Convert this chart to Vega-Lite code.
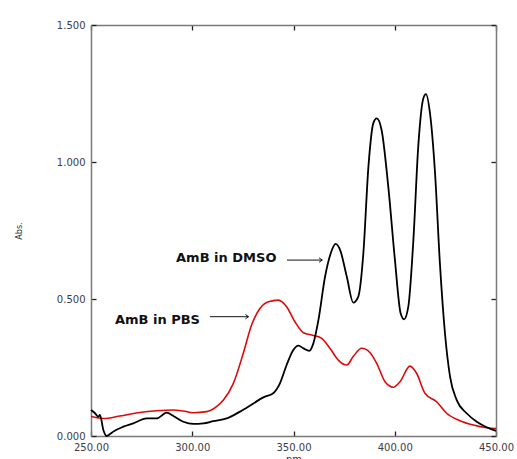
{
  "$schema": "https://vega.github.io/schema/vega-lite/v6.json",
  "width": 405,
  "height": 411,
  "autosize": {"type": "none"},
  "padding": {"left": 91, "top": 25, "right": 21, "bottom": 23},
  "background": "white",
  "config": {
    "view": {"stroke": null},
    "axis": {
      "labelFont": "DejaVu Sans",
      "labelFontSize": 10,
      "labelColor": "#3c3c48",
      "labelFlush": false,
      "labelOverlap": false,
      "titleFont": "DejaVu Sans",
      "titleFontWeight": "normal",
      "titleColor": "#333333",
      "domainColor": "#7a7a7a",
      "domainWidth": 1.5,
      "tickColor": "#222222",
      "tickWidth": 1.3,
      "tickSize": -5,
      "labelPadding": 11,
      "grid": false
    }
  },
  "datasets": {
    "lines": [
      {"series": "PBS", "wl": 250, "abs": 0.071},
      {"series": "PBS", "wl": 256.1, "abs": 0.064},
      {"series": "PBS", "wl": 264.3, "abs": 0.073},
      {"series": "PBS", "wl": 274.2, "abs": 0.086},
      {"series": "PBS", "wl": 282.4, "abs": 0.092},
      {"series": "PBS", "wl": 290.7, "abs": 0.095},
      {"series": "PBS", "wl": 295.6, "abs": 0.091},
      {"series": "PBS", "wl": 300.5, "abs": 0.085},
      {"series": "PBS", "wl": 307.1, "abs": 0.089},
      {"series": "PBS", "wl": 312.0, "abs": 0.107},
      {"series": "PBS", "wl": 315.4, "abs": 0.131},
      {"series": "PBS", "wl": 320.3, "abs": 0.192},
      {"series": "PBS", "wl": 325.2, "abs": 0.302},
      {"series": "PBS", "wl": 329.3, "abs": 0.405},
      {"series": "PBS", "wl": 333.5, "abs": 0.466},
      {"series": "PBS", "wl": 337.6, "abs": 0.49},
      {"series": "PBS", "wl": 342.5, "abs": 0.496},
      {"series": "PBS", "wl": 346.6, "abs": 0.472},
      {"series": "PBS", "wl": 350.7, "abs": 0.417},
      {"series": "PBS", "wl": 354.9, "abs": 0.377},
      {"series": "PBS", "wl": 359.8, "abs": 0.367},
      {"series": "PBS", "wl": 363.9, "abs": 0.356},
      {"series": "PBS", "wl": 368.0, "abs": 0.32},
      {"series": "PBS", "wl": 372.1, "abs": 0.277},
      {"series": "PBS", "wl": 376.3, "abs": 0.259},
      {"series": "PBS", "wl": 379.5, "abs": 0.29},
      {"series": "PBS", "wl": 383.7, "abs": 0.32},
      {"series": "PBS", "wl": 387.8, "abs": 0.304},
      {"series": "PBS", "wl": 391.1, "abs": 0.265},
      {"series": "PBS", "wl": 395.2, "abs": 0.198},
      {"series": "PBS", "wl": 399.3, "abs": 0.178},
      {"series": "PBS", "wl": 402.6, "abs": 0.198},
      {"series": "PBS", "wl": 407.5, "abs": 0.255},
      {"series": "PBS", "wl": 410.8, "abs": 0.229},
      {"series": "PBS", "wl": 414.9, "abs": 0.156},
      {"series": "PBS", "wl": 420.7, "abs": 0.125},
      {"series": "PBS", "wl": 425.6, "abs": 0.083},
      {"series": "PBS", "wl": 432.2, "abs": 0.056},
      {"series": "PBS", "wl": 438.8, "abs": 0.04},
      {"series": "PBS", "wl": 445.4, "abs": 0.03},
      {"series": "PBS", "wl": 450, "abs": 0.027},
      {"series": "DMSO", "wl": 250, "abs": 0.095},
      {"series": "DMSO", "wl": 252, "abs": 0.083},
      {"series": "DMSO", "wl": 253.6, "abs": 0.07},
      {"series": "DMSO", "wl": 254.4, "abs": 0.077},
      {"series": "DMSO", "wl": 256.1, "abs": 0.022},
      {"series": "DMSO", "wl": 257.7, "abs": 0.0},
      {"series": "DMSO", "wl": 259.4, "abs": 0.007},
      {"series": "DMSO", "wl": 261, "abs": 0.016},
      {"series": "DMSO", "wl": 266, "abs": 0.034},
      {"series": "DMSO", "wl": 270.9, "abs": 0.046},
      {"series": "DMSO", "wl": 277.5, "abs": 0.064},
      {"series": "DMSO", "wl": 282.4, "abs": 0.064},
      {"series": "DMSO", "wl": 287.4, "abs": 0.085},
      {"series": "DMSO", "wl": 290.7, "abs": 0.073},
      {"series": "DMSO", "wl": 295.6, "abs": 0.052},
      {"series": "DMSO", "wl": 300.5, "abs": 0.044},
      {"series": "DMSO", "wl": 305.5, "abs": 0.046},
      {"series": "DMSO", "wl": 310.4, "abs": 0.054},
      {"series": "DMSO", "wl": 317, "abs": 0.064},
      {"series": "DMSO", "wl": 323.6, "abs": 0.089},
      {"series": "DMSO", "wl": 330.2, "abs": 0.119},
      {"series": "DMSO", "wl": 335.1, "abs": 0.141},
      {"series": "DMSO", "wl": 340.0, "abs": 0.156},
      {"series": "DMSO", "wl": 343.3, "abs": 0.192},
      {"series": "DMSO", "wl": 346.6, "abs": 0.259},
      {"series": "DMSO", "wl": 349.9, "abs": 0.314},
      {"series": "DMSO", "wl": 352.4, "abs": 0.33},
      {"series": "DMSO", "wl": 354.9, "abs": 0.32},
      {"series": "DMSO", "wl": 357.8, "abs": 0.311},
      {"series": "DMSO", "wl": 359.8, "abs": 0.338},
      {"series": "DMSO", "wl": 362.3, "abs": 0.423},
      {"series": "DMSO", "wl": 365.6, "abs": 0.582},
      {"series": "DMSO", "wl": 368.4, "abs": 0.667},
      {"series": "DMSO", "wl": 370.8, "abs": 0.701},
      {"series": "DMSO", "wl": 373, "abs": 0.679},
      {"series": "DMSO", "wl": 376.3, "abs": 0.582},
      {"series": "DMSO", "wl": 379.5, "abs": 0.487},
      {"series": "DMSO", "wl": 382, "abs": 0.509},
      {"series": "DMSO", "wl": 384.5, "abs": 0.667},
      {"series": "DMSO", "wl": 387, "abs": 0.983},
      {"series": "DMSO", "wl": 389.4, "abs": 1.141},
      {"series": "DMSO", "wl": 391.1, "abs": 1.159},
      {"series": "DMSO", "wl": 393.5, "abs": 1.117},
      {"series": "DMSO", "wl": 396.8, "abs": 0.91},
      {"series": "DMSO", "wl": 400.1, "abs": 0.642},
      {"series": "DMSO", "wl": 402.9, "abs": 0.448},
      {"series": "DMSO", "wl": 404.6, "abs": 0.426},
      {"series": "DMSO", "wl": 406.7, "abs": 0.472},
      {"series": "DMSO", "wl": 409.2, "abs": 0.715},
      {"series": "DMSO", "wl": 411.6, "abs": 1.056},
      {"series": "DMSO", "wl": 414.1, "abs": 1.232},
      {"series": "DMSO", "wl": 415.4, "abs": 1.248},
      {"series": "DMSO", "wl": 417.4, "abs": 1.178},
      {"series": "DMSO", "wl": 419.9, "abs": 0.959},
      {"series": "DMSO", "wl": 422.3, "abs": 0.63},
      {"series": "DMSO", "wl": 424.8, "abs": 0.375},
      {"series": "DMSO", "wl": 427.3, "abs": 0.217},
      {"series": "DMSO", "wl": 430.6, "abs": 0.131},
      {"series": "DMSO", "wl": 435.5, "abs": 0.083},
      {"series": "DMSO", "wl": 440.5, "abs": 0.052},
      {"series": "DMSO", "wl": 445.4, "abs": 0.032},
      {"series": "DMSO", "wl": 450, "abs": 0.019}
    ],
    "labels": [
      {"label": "AmB in DMSO", "wl": 292.0, "abs": 0.648},
      {"label": "AmB in PBS", "wl": 261.8, "abs": 0.423}
    ],
    "arrows": [
      {"wl": 346.8, "wl2": 364.2, "abs": 0.642},
      {"wl": 308.8, "wl2": 327.8, "abs": 0.4355}
    ]
  },
  "layer": [
    {
      "data": {"name": "lines"},
      "transform": [{"filter": "datum.series === 'PBS'"}],
      "mark": {"type": "line", "color": "#dc0a0a", "strokeWidth": 1.6, "interpolate": "monotone"},
      "encoding": {
        "x": {
          "field": "wl", "type": "quantitative",
          "scale": {"domain": [250, 450], "nice": false, "zero": false},
          "axis": {"orient": "bottom", "values": [250, 300, 350, 400, 450], "format": ".2f", "title": "nm", "titleFontSize": 10, "titlePadding": 2}
        },
        "y": {
          "field": "abs", "type": "quantitative",
          "scale": {"domain": [0, 1.5], "nice": false},
          "axis": {"orient": "left", "values": [0, 0.5, 1, 1.5], "format": ".3f", "title": "Abs.", "titleFontSize": 8, "titlePadding": 33}
        }
      }
    },
    {
      "data": {"name": "lines"},
      "transform": [{"filter": "datum.series === 'DMSO'"}],
      "mark": {"type": "line", "color": "#000000", "strokeWidth": 1.8, "interpolate": "monotone"},
      "encoding": {
        "x": {
          "field": "wl", "type": "quantitative",
          "axis": {"orient": "top", "values": [250, 300, 350, 400, 450], "labels": false, "title": null}
        },
        "y": {
          "field": "abs", "type": "quantitative",
          "axis": {"orient": "right", "values": [0, 0.5, 1, 1.5], "labels": false, "title": null}
        }
      }
    },
    {
      "data": {"name": "labels"},
      "mark": {"type": "text", "font": "DejaVu Sans", "fontWeight": "bold", "fontSize": 13, "align": "left", "baseline": "middle", "color": "#111111"},
      "encoding": {
        "x": {"field": "wl", "type": "quantitative", "axis": null},
        "y": {"field": "abs", "type": "quantitative", "axis": null},
        "text": {"field": "label"}
      }
    },
    {
      "data": {"name": "arrows"},
      "mark": {"type": "rule", "color": "#111111", "strokeWidth": 1},
      "encoding": {
        "x": {"field": "wl", "type": "quantitative", "axis": null},
        "x2": {"field": "wl2"},
        "y": {"field": "abs", "type": "quantitative", "axis": null}
      }
    },
    {
      "data": {"name": "arrows"},
      "mark": {"type": "point", "shape": "M-1,-0.7L0,0L-1,0.7", "filled": false, "size": 40, "color": "#111111", "strokeWidth": 1, "opacity": 1},
      "encoding": {
        "x": {"field": "wl2", "type": "quantitative", "axis": null},
        "y": {"field": "abs", "type": "quantitative", "axis": null}
      }
    }
  ],
  "resolve": {"axis": {"x": "independent", "y": "independent"}}
}
